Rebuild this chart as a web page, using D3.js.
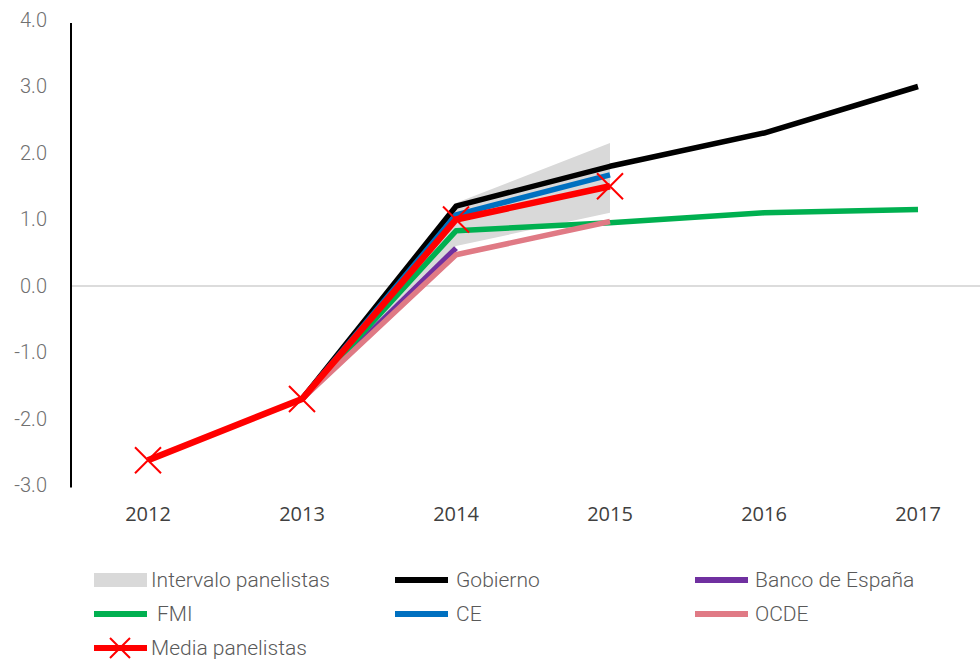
<!DOCTYPE html>
<html>
<head>
<meta charset="utf-8">
<script src="https://cdn.jsdelivr.net/npm/d3@7"></script>
<style>
  html, body { margin: 0; padding: 0; background: #fff; }
  svg { display: block; }
</style>
</head>
<body>
<svg id="chart" width="980" height="660"></svg>
<script>
const years = ["2012", "2013", "2014", "2015", "2016", "2017"];
const yTicks = [-3, -2, -1, 0, 1, 2, 3, 4];

const intervaloYears = ["2013", "2014", "2015"];
const intervaloLow  = [-1.7, 0.6, 1.1];
const intervaloHigh = [-1.7, 1.25, 2.15];

const gobiernoYears = ["2013", "2014", "2015", "2016", "2017"];
const gobierno      = [-1.7, 1.2, 1.8, 2.3, 3.0];

const bdeYears = ["2013", "2014"];
const bde      = [-1.7, 0.57];

const fmiYears = ["2013", "2014", "2015", "2016", "2017"];
const fmi      = [-1.7, 0.83, 0.95, 1.1, 1.15];

const ceYears = ["2013", "2014", "2015"];
const ce      = [-1.7, 1.07, 1.67];

const ocdeYears = ["2013", "2014", "2015"];
const ocde      = [-1.7, 0.47, 0.97];

const mediaYears = ["2012", "2013", "2014", "2015"];
const media      = [-2.62, -1.7, 1.0, 1.5];

const legendLabels = ["Intervalo panelistas", "Gobierno", "Banco de España", "FMI", "CE", "OCDE", "Media panelistas"];

const svg = d3.select("#chart");

const x = d3.scaleBand().domain(years).range([71, 995]).padding(0);
const cx = d => x(d) + x.bandwidth() / 2;
const y = d3.scaleLinear().domain([-3, 4]).range([485.5, 20]);

// Interval area
const areaData = intervaloYears.map((yr, i) => ({yr, lo: intervaloLow[i], hi: intervaloHigh[i]}));
svg.append("path")
  .datum(areaData)
  .attr("fill", "#d9d9d9")
  .attr("d", d3.area().x(d => cx(d.yr)).y0(d => y(d.lo)).y1(d => y(d.hi)));

// zero line
svg.append("line")
  .attr("x1", 71).attr("x2", 980)
  .attr("y1", y(0)).attr("y2", y(0))
  .attr("stroke", "#d0d0d0").attr("stroke-width", 1.5);

// Y axis
const yAxis = d3.axisLeft(y).tickValues(yTicks).tickFormat(d => d.toFixed(1)).tickSize(0).tickPadding(24);
const gy = svg.append("g").attr("transform", "translate(71,0)").call(yAxis);
gy.select(".domain").attr("stroke", "#000").attr("stroke-width", 2).attr("d", `M0,${y(4)+3}V${y(-3)+2}`);
gy.selectAll("text")
  .attr("font-family", "Roboto, sans-serif")
  .attr("font-weight", 300)
  .attr("font-size", 20)
  .attr("fill", "#707070");

// X axis labels
const xAxis = d3.axisBottom(x).tickSize(0).tickPadding(0);
const gx = svg.append("g").attr("transform", "translate(0,507)").call(xAxis);
gx.select(".domain").remove();
gx.selectAll("text")
  .attr("font-family", "'Open Sans', sans-serif")
  .attr("font-size", 20)
  .attr("fill", "#404040");

const line = d3.line().x(d => cx(d.yr)).y(d => y(d.v));
function series(yrs, vals, color, w) {
  const data = yrs.map((yr, i) => ({yr, v: vals[i]}));
  svg.append("path").datum(data)
    .attr("fill", "none").attr("stroke", color).attr("stroke-width", w)
    .attr("stroke-linejoin", "round")
    .attr("d", line);
  return data;
}

series(gobiernoYears, gobierno, "#000000", 5.5);
series(bdeYears, bde, "#7030a0", 5.5);
series(fmiYears, fmi, "#00b050", 5.5);
series(ceYears, ce, "#0070c0", 5.5);
series(ocdeYears, ocde, "#e07a85", 5.5);
const md = series(mediaYears, media, "#ff0000", 6.5);

function cross(g, px, py, s) {
  g.append("path")
    .attr("d", `M${px - s},${py - s}L${px + s},${py + s}M${px - s},${py + s}L${px + s},${py - s}`)
    .attr("stroke", "#ff0000").attr("stroke-width", 2).attr("fill", "none");
}
md.forEach(d => cross(svg, cx(d.yr), y(d.v), 13));

// Legend
const leg = svg.append("g");
const colX = [94, 395, 695];
const rowY = [580, 614, 648];
const legendItems = [
  {type: "rect", color: "#d9d9d9", col: 0, row: 0},
  {type: "line", color: "#000000", col: 1, row: 0},
  {type: "line", color: "#7030a0", col: 2, row: 0},
  {type: "line", color: "#00b050", col: 0, row: 1},
  {type: "line", color: "#0070c0", col: 1, row: 1},
  {type: "line", color: "#e07a85", col: 2, row: 1},
  {type: "media", color: "#ff0000", col: 0, row: 2}
];
const textOffset = [57, 61, 60];
legendItems.forEach((it, i) => {
  const lx = colX[it.col], ly = rowY[it.row];
  if (it.type === "rect") {
    leg.append("rect").attr("x", lx).attr("y", ly - 7).attr("width", 53).attr("height", 14).attr("fill", it.color);
  } else {
    leg.append("line").attr("x1", lx).attr("x2", lx + 53).attr("y1", ly).attr("y2", ly)
      .attr("stroke", it.color).attr("stroke-width", 6);
    if (it.type === "media") cross(leg, lx + 26, ly, 10);
  }
  let tx = lx + textOffset[it.col];
  if (i === 3) tx = lx + 63;
  leg.append("text")
    .attr("x", tx).attr("y", ly).attr("dy", "0.35em")
    .attr("font-family", "'Liberation Sans Narrow', 'Roboto', sans-serif")
    .attr("font-weight", 300)
    .attr("font-size", 21)
    .attr("fill", "#595959")
    .text(legendLabels[i]);
});
</script>
</body>
</html>
